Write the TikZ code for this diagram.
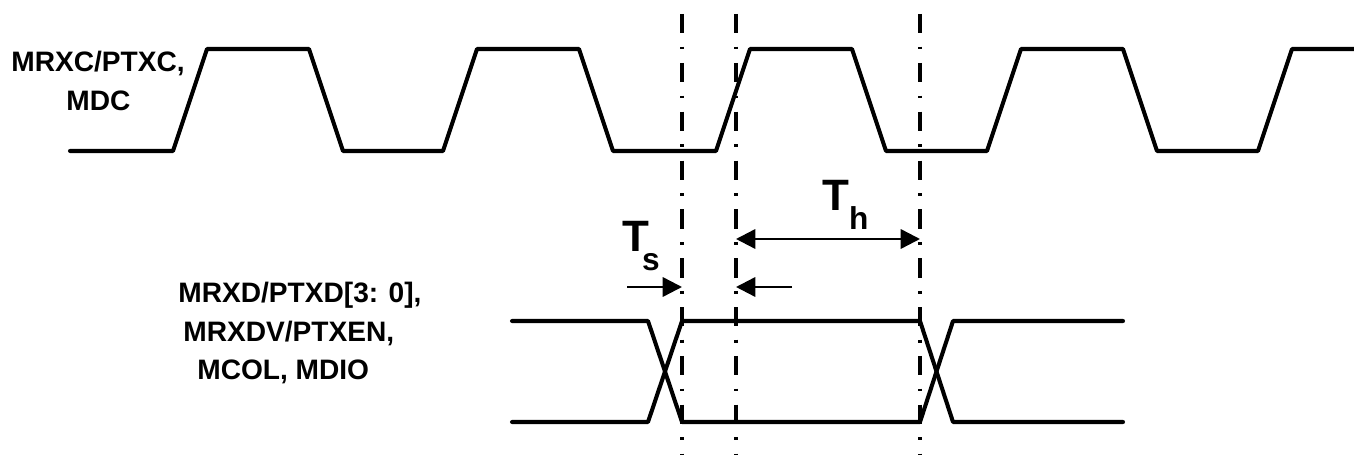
\documentclass[tikz,border=0pt]{standalone}
\usepackage{fontspec}
\setmainfont{Liberation Sans}
\usetikzlibrary{positioning}
\usetikzlibrary{arrows.meta}

\tikzset{
  sig/.style={line width=2.3pt, line join=round, line cap=round},
  refline/.style={line width=2pt, dash pattern=on 11pt off 7.6pt on 1.6pt off 7.6pt},
  timearrow/.style={line width=1.4pt, -{Triangle[length=11pt,width=11pt]}},
  lbl/.style={font=\fontsize{16}{19}\selectfont\bfseries, inner sep=0pt, anchor=base west},
  tlbl/.style={font=\fontsize{25}{30}\selectfont\bfseries, inner sep=0pt, anchor=base west}
}

\begin{document}
\begin{tikzpicture}[x=0.02cm, y=-0.02cm]
      \useasboundingbox (0,0) rectangle (1354,455);

      % signal names
      \node(clk1) [lbl] at (11,72) {MRXC/PTXC,};
      \node(clk2) [lbl] at (66,111) {MDC};
      \node(dat1) [lbl] at (178,303) {MRXD/PTXD[3: 0],};
      \node(dat2) [lbl] at (183,342) {MRXDV/PTXEN,};
      \node(dat3) [lbl] at (197,379) {MCOL, MDIO};

      % clock
      \draw[sig] (70,151) -- (173,151) -- (207,49) -- (309,49) -- (343,151)
                 -- (443,151) -- (477,49) -- (579,49) -- (613,151)
                 -- (716,151) -- (750,49) -- (852,49) -- (886,151)
                 -- (987,151) -- (1021,49) -- (1123,49) -- (1157,151)
                 -- (1258,151) -- (1292,49) -- (1360,49);

      % data
      \draw[sig] (512,321) -- (648,321) -- (682,422) -- (920,422) -- (953,321) -- (1123,321);
      \draw[sig] (512,422) -- (648,422) -- (682,321) -- (920,321) -- (953,422) -- (1123,422);

      % reference lines
      \coordinate(setup) at (682,14);
      \coordinate(edge) at (736,14);
      \coordinate(hold) at (920,14);
      \draw[refline] (setup) -- (682,460);
      \draw[refline] (edge) -- (736,460);
      \draw[refline] (hold) -- (920,460);

      % timing arrows
      \coordinate(tsfrom) at (627,287);
      \coordinate(thfrom) at (792,287);
      \coordinate(thy) at (736,239);
      \draw[timearrow] (tsfrom) -- (tsfrom -| setup);
      \draw[timearrow] (thfrom) -- (thfrom -| edge);
      \draw[timearrow, {Triangle[length=11pt,width=11pt]}-{Triangle[length=11pt,width=11pt]}]
            (thy -| edge) -- (thy -| hold);

      \node(ts) [tlbl] at (622,252) {T\kern-4pt\raisebox{-10.3pt}{\fontsize{18}{18}\selectfont s}};
      \node(th) [tlbl] at (822,211) {T\raisebox{-10.8pt}{\fontsize{18}{18}\selectfont h}};
    \end{tikzpicture}
\end{document}
